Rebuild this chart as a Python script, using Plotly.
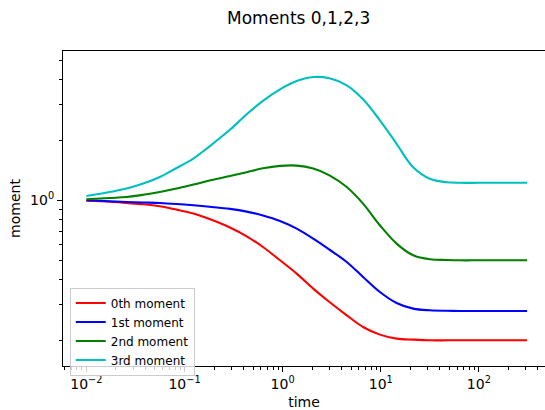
import plotly.graph_objects as go

# ---- data ----
time = [0.01, 0.0173, 0.0257, 0.038, 0.056, 0.083, 0.123, 0.18, 0.29, 0.43,
        0.63, 0.94, 1.39, 2.05, 3.0, 4.5, 6.6, 9.8, 14.5, 21.4, 31.7, 47, 64,
        100, 310]
moment0 = [0.9943, 0.9829, 0.9694, 0.9550, 0.9333, 0.8985, 0.8590, 0.8054,
           0.7311, 0.6607, 0.5841, 0.5012, 0.4299, 0.3618, 0.3100, 0.2661,
           0.2326, 0.2130, 0.2034, 0.2011, 0.1995, 0.1995, 0.1995, 0.1995,
           0.1995]
moment1 = [1.0000, 0.9886, 0.9806, 0.9750, 0.9694, 0.9583, 0.9441, 0.9279,
           0.9058, 0.8780, 0.8395, 0.7880, 0.7219, 0.6434, 0.5669, 0.4914,
           0.4135, 0.3479, 0.3065, 0.2873, 0.2818, 0.2802, 0.2796, 0.2796,
           0.2796]
moment2 = [1.0116, 1.0268, 1.0387, 1.0654, 1.1003, 1.1443, 1.1981, 1.2546,
           1.3213, 1.3820, 1.4454, 1.4859, 1.4911, 1.4405, 1.3335, 1.1654,
           0.9627, 0.7499, 0.6075, 0.5309, 0.5070, 0.5029, 0.5012, 0.5012,
           0.5012]
moment3 = [1.0507, 1.1003, 1.1443, 1.2118, 1.3077, 1.4505, 1.6163, 1.8621,
           2.2513, 2.6915, 3.1440, 3.5892, 3.9494, 4.1353, 4.0738, 3.7584,
           3.1989, 2.5119, 1.9165, 1.4622, 1.2809, 1.2303, 1.2232, 1.2232,
           1.2232]

series_names = ["0th moment", "1st moment", "2nd moment", "3rd moment"]
series_values = [moment0, moment1, moment2, moment3]
series_colors = ["#ff0000", "#0000ff", "#008000", "#00bfbf"]

x_tickvals = [0.01, 0.1, 1, 10, 100]
x_ticktext = ["10<sup>−2</sup>", "10<sup>−1</sup>", "10<sup>0</sup>",
              "10<sup>1</sup>", "10<sup>2</sup>"]
y_tickvals = [1]
y_ticktext = ["10<sup>0</sup>"]

x_minor = [m * 10 ** e for e in range(-3, 3) for m in range(2, 10)]
y_minor = [0.2, 0.3, 0.4, 0.5, 0.6, 0.7, 0.8, 0.9, 2, 3, 4, 5]

FONT = "DejaVu Sans"

fig = go.Figure()
for name, vals, col in zip(series_names, series_values, series_colors):
    fig.add_trace(go.Scatter(
        x=time, y=vals, mode="lines", name=name,
        line=dict(color=col, width=2.1, shape="spline", smoothing=1.0),
    ))

fig.update_layout(
    width=545, height=410,
    margin=dict(l=63, r=0, t=51, b=44, autoexpand=False),
    paper_bgcolor="white", plot_bgcolor="white",
    font=dict(family=FONT, size=14, color="black"),
    title=dict(text="Moments 0,1,2,3", x=0.548, xanchor="center",
               y=0.957, yanchor="middle", font=dict(size=17, family=FONT)),
    showlegend=True,
    legend=dict(x=0.014, y=0.249, xanchor="left", yanchor="top",
                bgcolor="rgba(255,255,255,0.8)", bordercolor="#cccccc",
                borderwidth=1, font=dict(size=12, family=FONT),
                tracegroupgap=0),
)

fig.update_xaxes(
    type="log", range=[-2.2385, 2.674], automargin=False,
    showline=True, linecolor="black", linewidth=1.1, mirror=True,
    showgrid=False, zeroline=False,
    tickmode="array", tickvals=x_tickvals, ticktext=x_ticktext,
    ticks="outside", ticklen=5, tickwidth=1.1, tickcolor="black",
    tickfont=dict(size=14, family=FONT),
    minor=dict(tickmode="array", tickvals=x_minor, ticks="outside",
               ticklen=3, tickwidth=0.8, tickcolor="black", showgrid=False),
    title=dict(text="time", font=dict(size=14, family=FONT), standoff=7),
)
fig.update_yaxes(
    type="log", range=[-0.8285, 0.7465], automargin=False,
    showline=True, linecolor="black", linewidth=1.1, mirror=False,
    showgrid=False, zeroline=False,
    tickmode="array", tickvals=y_tickvals, ticktext=y_ticktext,
    ticks="outside", ticklen=5, tickwidth=1.1, tickcolor="black",
    tickfont=dict(size=14, family=FONT),
    minor=dict(tickmode="array", tickvals=y_minor, ticks="outside",
               ticklen=3, tickwidth=0.8, tickcolor="black", showgrid=False),
    title=dict(text="moment", font=dict(size=14, family=FONT), standoff=6),
)

fig.write_html("out.html",
               config={"displayModeBar": False},
               post_script="document.body.style.margin='0';"
                           "document.body.style.overflow='hidden';")
